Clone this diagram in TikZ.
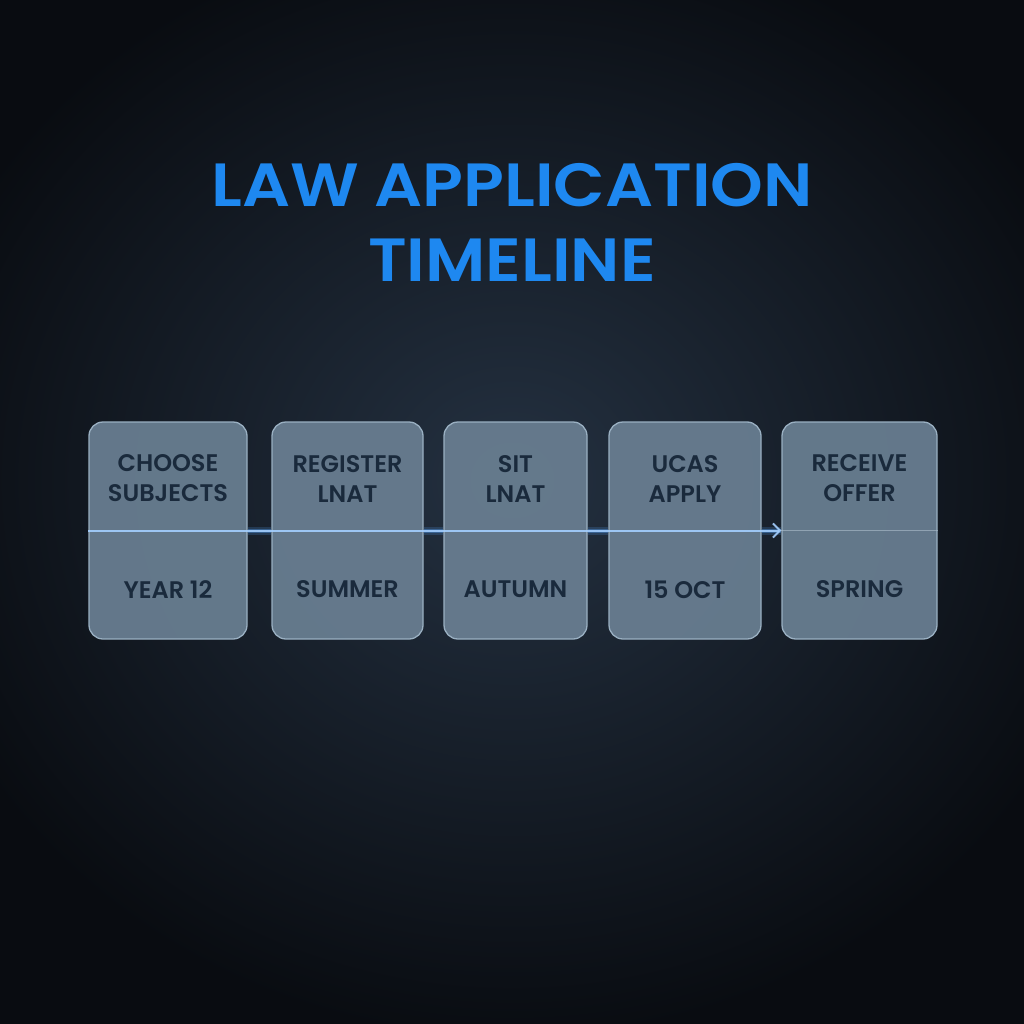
\documentclass[tikz,border=0pt]{standalone}
\usepackage{fontspec}
\setmainfont{Poppins}[BoldFont={* SemiBold}]
\newfontfamily\titlefont{Poppins SemiBold}[FakeStretch=1.1]
\usetikzlibrary{arrows.meta,calc}
\definecolor{bgdark}{HTML}{090C11}
\definecolor{bgmid}{HTML}{243141}
\definecolor{titleblue}{HTML}{1E88F0}
\definecolor{boxfill}{HTML}{687D90}
\definecolor{boxedge}{HTML}{9AB0C2}
\definecolor{boxtext}{HTML}{1A2A3C}
\definecolor{lineblue}{HTML}{5AA8FF}
\tikzset{
  stagebox/.style={draw=boxedge, line width=1.3pt, fill=boxfill, fill opacity=0.95, rounded corners=14pt, inner sep=0pt},
  toptext/.style={text=boxtext, font=\bfseries\fontsize{24}{30}\selectfont, align=center, inner sep=0pt},
  bottext/.style={text=boxtext, font=\bfseries\fontsize{24}{30}\selectfont, inner sep=0pt},
  titletext/.style={text=titleblue, font=\titlefont\fontsize{61}{75}\selectfont, align=center, inner sep=0pt},
  glowseg/.style={lineblue, line width=8pt, opacity=0.18},
  glowcore/.style={lineblue, line width=4pt, opacity=0.35},
}
\begin{document}
\begin{tikzpicture}[x=1pt,y=-1pt]
\useasboundingbox (0,0) rectangle (1024,1024);
\fill[bgdark] (0,0) rectangle (1024,1024);
\shade[inner color=bgmid, outer color=bgdark] (512,480) ellipse (620 and 560);
\node[titletext] (title) at (512,222) {LAW APPLICATION\\TIMELINE};
% boxes
\foreach \n/\xl/\xr in {b1/89/247, b2/272/423, b3/444/587, b4/609/761, b5/782/937}{
  \node[stagebox, minimum width={\xr-\xl}, minimum height=217] (\n) at ({(\xl+\xr)/2},530.5) {};
}
% timeline glow between boxes
\foreach \a/\b in {b1/b2,b2/b3,b3/b4,b4/b5}{
  \draw[glowseg] (\a.east) -- (\b.west);
  \draw[glowcore] (\a.east) -- (\b.west);
}
\draw[lineblue!55!white, line width=2pt, opacity=0.9, -{Straight Barb[length=7pt,width=14pt,line width=2pt]}] (b1.west) -- (b5.west);
\draw[boxedge!80!white, line width=1.5pt, opacity=0.6] (b5.west) -- (b5.east);
% texts
\node[toptext] (t1) at ([yshift=52]b1.center) {CHOOSE\\SUBJECTS};
\node[toptext] (t2) at ([yshift=52]b2.center) {REGISTER\\LNAT};
\node[toptext] (t3) at ([yshift=52]b3.center) {SIT\\LNAT};
\node[toptext] (t4) at ([yshift=52]b4.center) {UCAS\\APPLY};
\node[toptext] (t5) at ([yshift=52]b5.center) {RECEIVE\\OFFER};
\node[bottext] (d1) at ([yshift=-59]b1.center) {YEAR 12};
\node[bottext] (d2) at ([yshift=-59]b2.center) {SUMMER};
\node[bottext] (d3) at ([yshift=-59]b3.center) {AUTUMN};
\node[bottext] (d4) at ([yshift=-59]b4.center) {15 OCT};
\node[bottext] (d5) at ([yshift=-59]b5.center) {SPRING};
\end{tikzpicture}
\end{document}
